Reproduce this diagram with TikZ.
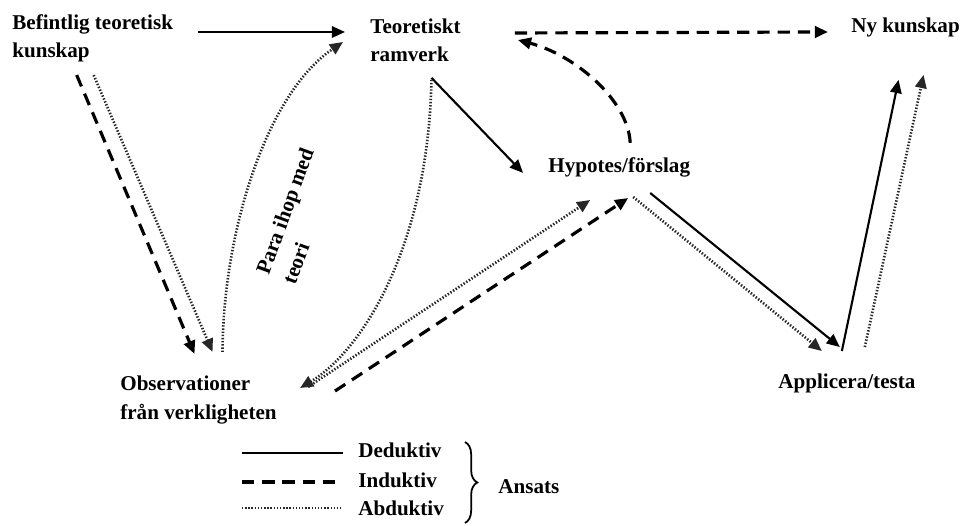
\documentclass[tikz,border=0pt]{standalone}
\usepackage{fontspec}
\setmainfont{Liberation Serif}
\usetikzlibrary{arrows.meta,decorations.pathreplacing}
\tikzset{
  term/.style={inner sep=0pt, font=\bfseries\fontsize{12}{16}\selectfont, align=left},
  deduk/.style={line width=1.2pt, draw=black},
  induk/.style={line width=1.8pt, draw=black, dash pattern=on 7pt off 4.5pt},
  abduk/.style={line width=1.5pt, draw=black!85, dash pattern=on 0.8pt off 1pt},
  tip/.style={-{Triangle[length=7.5pt,width=6.5pt]}}
}

\begin{document}
\begin{tikzpicture}[x=0.02cm, y=-0.02cm]
  \useasboundingbox (0,0) rectangle (963,526);
  \node[term, anchor=west] (bef) at (12,38) {Befintlig teoretisk\\kunskap};
  \node[term, anchor=west] (ram) at (370,40) {Teoretiskt\\ramverk};
  \node[term, anchor=base west] (ny) at (851,33) {Ny kunskap};
  \node[term, anchor=base west] (hyp) at (548,173) {Hypotes/förslag};
  \node[term, anchor=west] (obs) at (120,400) {Observationer\\från verkligheten};
  \node[term, anchor=base west] (app) at (778,389) {Applicera/testa};
  \node[term, rotate=70] (pair) at (298,216) {Para ihop med\\teori};

  \draw[deduk, tip] ([shift={(25,-6)}]bef.east) -- ([shift={(-25,-8)}]ram.west);
  \draw[induk, tip] ([shift={(-16,13)}]bef.south) -- ([shift={(-4,-22)}]obs.north);
  \draw[abduk, tip] ([shift={(1,13)}]bef.south) -- ([shift={(14,-24)}]obs.north);
  \draw[abduk, tip] ([shift={(24,-24)}]obs.north) .. controls (223,235) and (265,95) .. ([shift={(-27,2)}]ram.west);
  \draw[deduk, tip] ([shift={(16,16)}]ram.south) -- ([shift={(-25,5)}]hyp.west);
  \draw[abduk, tip] ([shift={(16,18)}]ram.south) .. controls (428,250) and (360,352) .. ([shift={(23,-12)}]obs.east);
  \draw[abduk, tip] ([shift={(31,-13)}]obs.east) -- ([shift={(-29,22)}]hyp.south);
  \draw[induk, tip] ([shift={(58,-9)}]obs.east) -- ([shift={(9,20)}]hyp.south);
  \draw[induk, tip] ([shift={(54,-7)}]ram.east) -- ([shift={(-23,4)}]ny.west);
  \draw[induk, tip] ([shift={(11,-15)}]hyp.north) .. controls (628,100) and (575,55) .. ([shift={(57,0)}]ram.east);
  \draw[deduk, tip] ([shift={(31,15)}]hyp.south) -- ([shift={(-7,-27)}]app.north);
  \draw[abduk, tip] ([shift={(14,19)}]hyp.south) -- ([shift={(-25,-23)}]app.north);
  \draw[deduk, tip] ([shift={(-5,-23)}]app.north) -- ([shift={(-7,42)}]ny.south);
  \draw[abduk, tip] ([shift={(18,-27)}]app.north) -- ([shift={(18,37)}]ny.south);

  \node[term, anchor=base west] (ded) at (358,458) {Deduktiv};
  \node[term, anchor=base west] (ind) at (358,487) {Induktiv};
  \node[term, anchor=base west] (abd) at (358,515) {Abduktiv};
  \node[term, anchor=west] (ans) at (498,487) {Ansats};
  \draw[deduk] ([shift={(-116,-5)}]ded.base west) -- ([shift={(-15,-5)}]ded.base west);
  \draw[induk] ([shift={(-116,-5)}]ind.base west) -- ([shift={(-15,-5)}]ind.base west);
  \draw[abduk] ([shift={(-116,-7)}]abd.base west) -- ([shift={(-15,-7)}]abd.base west);
  \draw[line width=1pt, decorate, decoration={brace, amplitude=7pt}] (465,442) -- (465,523);
\end{tikzpicture}
\end{document}
